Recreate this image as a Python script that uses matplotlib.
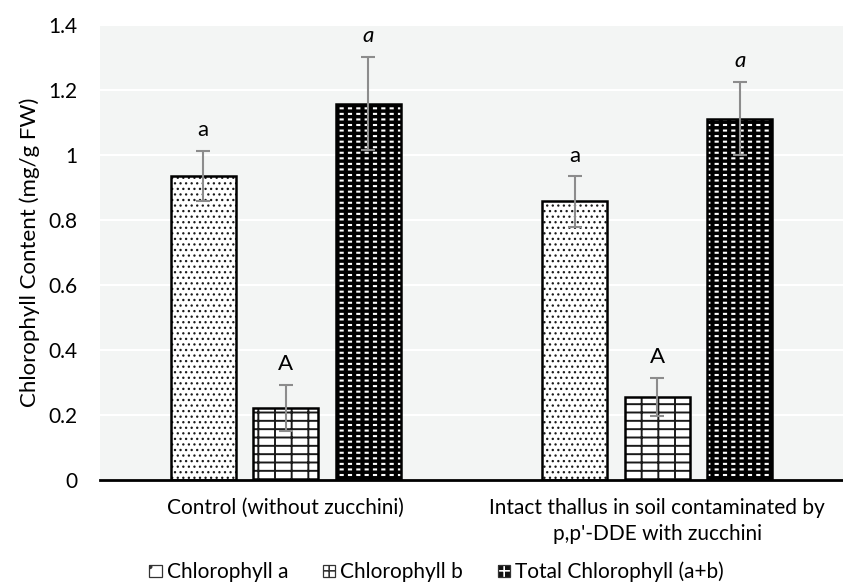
import numpy as np
import matplotlib
matplotlib.use("Agg")
import matplotlib.pyplot as plt
from matplotlib.patches import Patch, Rectangle
from matplotlib.legend_handler import HandlerPatch

plt.rcParams['font.family'] = ['Lato', 'DejaVu Sans']

groups = ["Control (without zucchini)",
          "Intact thallus in soil contaminated by\np,p'-DDE with zucchini"]
series = ["Chlorophyll a", "Chlorophyll b", "Total Chlorophyll (a+b)"]
chl_a = [0.935, 0.857]
chl_b = [0.221, 0.256]
chl_total = [1.158, 1.112]
err_a = [0.077, 0.078]
err_b = [0.071, 0.059]
err_total = [0.144, 0.113]
letters_a = ["a", "a"]
letters_b = ["A", "A"]
letters_total = ["a", "a"]

values = [chl_a, chl_b, chl_total]
errors = [err_a, err_b, err_total]
letters = [letters_a, letters_b, letters_total]

fig = plt.figure(figsize=(8.43, 5.85), dpi=100)
ax = fig.add_axes([100 / 843, 1 - 480 / 585, 743 / 843, 455 / 585])
ax.set_facecolor('#f3f5f4')

x = np.arange(len(groups))
width = 0.175
step = 0.222
offsets = [-step, 0, step]

# fill layers per series: (facecolor, hatch colour, hatch, hatch linewidth)
styles = [
    [('white', '#1a1a1a', '...', 0.9)],
    [('white', '#1a1a1a', '--|', 1.4)],
    [('black', 'white', '---', 1.5), ('none', 'black', '||', 3.0)],
]

for i, (vals, errs, labs) in enumerate(zip(values, errors, letters)):
    pos = x + offsets[i]
    for k, (fc, hc, hatch, hlw) in enumerate(styles[i]):
        with plt.rc_context({'hatch.linewidth': hlw}):
            ax.bar(pos, vals, width, facecolor=fc, edgecolor=hc,
                   hatch=hatch, linewidth=0, zorder=3 + 0.1 * k)
    ax.bar(pos, vals, width, facecolor='none', edgecolor='black',
           linewidth=1.8, zorder=3.5)
    ax.errorbar(pos, vals, yerr=errs, fmt='none', ecolor='#8c8c8c',
                elinewidth=1.5, capsize=5, capthick=1.5, zorder=4)
    for p, v, e, lab in zip(pos, vals, errs, labs):
        ax.text(p, v + e + 0.045, lab, ha='center', va='baseline',
                fontsize=16, color='black',
                style='italic' if i == 2 else 'normal', zorder=5)

ax.set_ylim(0, 1.4)
ax.set_xlim(-0.5, 1.5)
ax.set_yticks(np.arange(0, 1.41, 0.2))
ax.set_yticklabels(['0', '0.2', '0.4', '0.6', '0.8', '1', '1.2', '1.4'])
ax.set_xticks(x)
ax.set_xticklabels(groups, linespacing=1.35)
ax.tick_params(axis='both', length=0, labelsize=15)
ax.tick_params(axis='y', pad=16)
ax.tick_params(axis='x', pad=13)
ax.grid(axis='y', color='white', linewidth=1.5, zorder=0)
ax.set_axisbelow(True)
for s in ['top', 'right', 'left']:
    ax.spines[s].set_visible(False)
ax.spines['bottom'].set_linewidth(2)
ax.spines['bottom'].set_zorder(6)
ax.set_ylabel('Chlorophyll Content (mg/g FW)', fontsize=16, labelpad=6)

# legend swatches: (facecolor, hatch colour, hatch)
swatches = {
    series[0]: ('white', '#333333', '.'),
    series[1]: ('white', '#333333', '--||'),
    series[2]: ('#111111', 'white', '--||'),
}


class SmallSquare(HandlerPatch):
    def create_artists(self, legend, orig_handle, xdescent, ydescent,
                       width, height, fontsize, trans):
        fc, hc, hatch = swatches[orig_handle.get_label()]
        size = min(width, height) * 0.9
        xy = (xdescent + width - size, ydescent + (height - size) / 2)
        with plt.rc_context({'hatch.linewidth': 1.2}):
            fill = Rectangle(xy, size, size, facecolor=fc, edgecolor=hc,
                             hatch=hatch, linewidth=0, transform=trans)
        edge = Rectangle(xy, size, size, facecolor='none',
                         edgecolor='#333333', linewidth=0.9, transform=trans)
        return [fill, edge]


handles = [Patch(label=s) for s in series]
fig.legend(handles, series, loc='center',
           bbox_to_anchor=(436 / 843, 1 - 572 / 585),
           ncol=3, frameon=False, fontsize=15, handlelength=0.65,
           handletextpad=0.25, columnspacing=1.6,
           handler_map={Patch: SmallSquare()})

fig.savefig('out.png', dpi=100)
